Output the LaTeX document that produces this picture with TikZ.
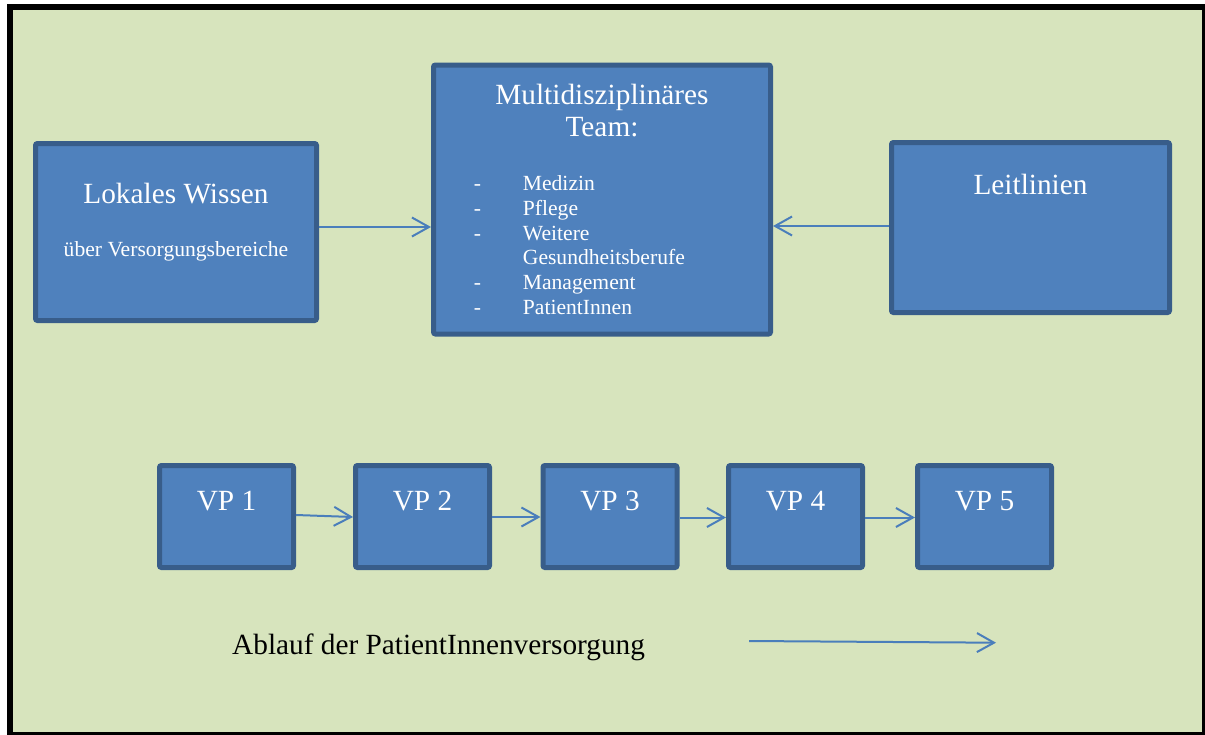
\documentclass[tikz,border=0pt]{standalone}
\usepackage{fontspec}
\setmainfont{Liberation Serif}
\usetikzlibrary{arrows.meta}
\definecolor{bggreen}{HTML}{D7E4BD}
\definecolor{boxfill}{HTML}{4F81BD}
\definecolor{boxline}{HTML}{385D8A}
\definecolor{arrowblue}{HTML}{4A7EBB}
\tikzset{
  box/.style={draw=boxline, fill=boxfill, line width=5pt, rounded corners=2pt, inner sep=0pt, outer sep=2.5pt},
  vpbox/.style={box, minimum width=134pt, minimum height=102pt},
  big/.style={text=white, inner sep=0pt, anchor=base, font=\fontsize{29.3}{35}\selectfont},
  small/.style={text=white, inner sep=0pt, anchor=base, font=\fontsize{21.6}{26}\selectfont},
  listtxt/.style={small, anchor=base west},
  conn/.style={draw=arrowblue, line width=2pt, -{Straight Barb[length=17pt,width=19pt]}}
}
\begin{document}
\begin{tikzpicture}[x=1pt,y=-1pt]
\clip (0,0) rectangle (1205,734);
\fill[white] (0,0) rectangle (1205,734);
\draw[line width=5.5pt, fill=bggreen] (9.75,7) rectangle (1204.75,734.45);

% top boxes
\node[box, minimum width=281pt, minimum height=177pt] (lok) at (176,232) {};
\node[box, minimum width=337pt, minimum height=269pt] (mid) at (602,199.5) {};
\node[box, minimum width=278pt, minimum height=170pt] (leit) at (1030.5,227.5) {};

\node[big] (lokt) at (176,203.3) {Lokales Wissen};
\node[small] (loks) at (176,256) {über Versorgungsbereiche};
\node[big] (leitt) at (1030.5,194) {Leitlinien};
\node[big] (midt1) at (602,104.3) {Multidisziplinäres};
\node[big] (midt2) at (602,136.7) {Team:};

\node[small, anchor=base] (d1) at (477.5,190.7) {-};
\node[small, anchor=base] (d2) at (477.5,215.4) {-};
\node[small, anchor=base] (d3) at (477.5,240.1) {-};
\node[small, anchor=base] (d5) at (477.5,289.5) {-};
\node[small, anchor=base] (d6) at (477.5,314.2) {-};
\node[listtxt] (l1) at (522.7,190.7) {Medizin};
\node[listtxt] (l2) at (522.7,215.4) {Pflege};
\node[listtxt] (l3) at (522.7,240.1) {Weitere};
\node[listtxt] (l4) at (522.7,264.8) {Gesundheitsberufe};
\node[listtxt] (l5) at (522.7,289.5) {Management};
\node[listtxt] (l6) at (522.7,314.2) {PatientInnen};

\draw[conn] ([yshift=5pt]lok.east) -- ([yshift=5pt]lok.east -| mid.west);
\draw[conn] ([yshift=1.5pt]leit.west) -- ([yshift=1.5pt]leit.west -| mid.east);

% VP row
\node[vpbox] (vp1) at (226.5,516.5) {};
\node[vpbox] (vp2) at (422.5,516.5) {};
\node[vpbox] (vp3) at (610,516.5) {};
\node[vpbox] (vp4) at (795.5,516.5) {};
\node[vpbox] (vp5) at (984.5,516.5) {};
\node[big] (vp1t) at (226.5,510) {VP 1};
\node[big] (vp2t) at (422.5,510) {VP 2};
\node[big] (vp3t) at (610,510) {VP 3};
\node[big] (vp4t) at (795.5,510) {VP 4};
\node[big] (vp5t) at (984.5,510) {VP 5};

\draw[conn] ([yshift=1.5pt]vp1.east) -- ([yshift=-0.5pt]vp2.west);
\draw[conn] ([yshift=-0.5pt]vp2.east) -- ([yshift=-0.5pt]vp3.west);
\draw[conn] ([yshift=-1pt]vp3.east) -- ([yshift=-1pt]vp4.west);
\draw[conn] ([yshift=-1pt]vp4.east) -- ([yshift=-1pt]vp5.west);

% bottom
\node[inner sep=0pt, anchor=base west, font=\fontsize{29.3}{35}\selectfont] (abl) at (232,654.3) {Ablauf der PatientInnenversorgung};
\coordinate (fs) at (749,641);
\coordinate (fe) at (996,642.7);
\draw[conn] (fs) -- (fe);
\end{tikzpicture}
\end{document}
